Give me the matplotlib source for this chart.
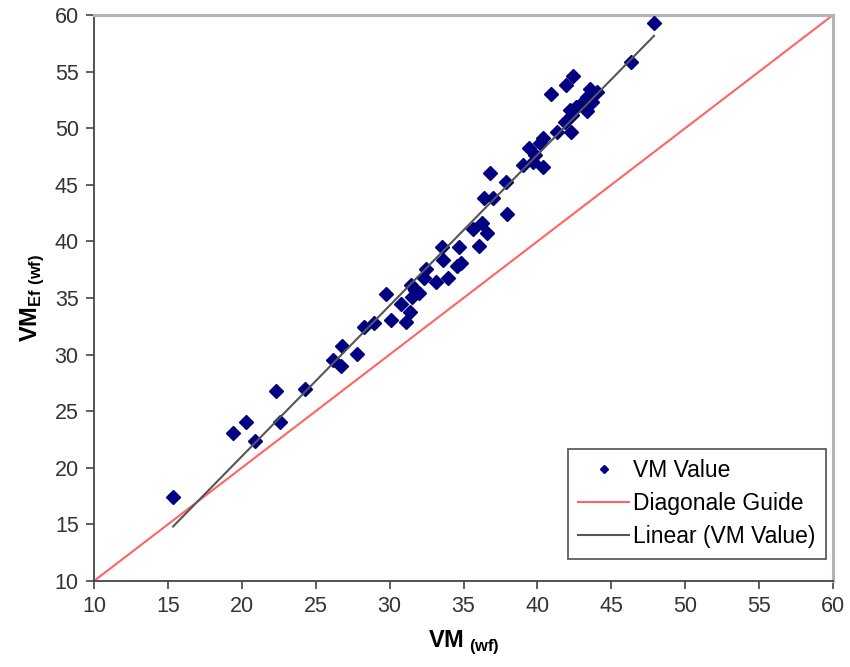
import numpy as np
import matplotlib
matplotlib.use("Agg")
import matplotlib.pyplot as plt

plt.rcParams['font.family'] = ['Liberation Sans', 'DejaVu Sans']
plt.rcParams['mathtext.fontset'] = 'custom'
plt.rcParams['mathtext.rm'] = 'Liberation Sans'
plt.rcParams['mathtext.bf'] = 'Liberation Sans:bold'

# values
vm_wf = [15.35, 19.40, 20.28, 20.89, 22.31, 22.58, 24.28, 26.17, 26.71, 26.78,
         27.79, 28.27, 28.94, 29.76, 30.09, 30.77, 31.11, 31.38, 31.45, 31.52,
         31.72, 31.99, 32.33, 32.46, 33.14, 33.55, 33.61, 33.95, 34.56, 34.70,
         34.83, 35.64, 36.05, 36.25, 36.39, 36.59, 36.79, 37.00, 37.88, 37.94,
         39.03, 39.43, 39.70, 39.84, 40.18, 40.38, 40.38, 40.92, 41.33, 41.87,
         41.94, 42.21, 42.27, 42.34, 42.41, 42.61, 43.02, 43.36, 43.36, 43.56,
         43.69, 44.03, 46.33, 47.89]
vm_ef = [17.42, 23.07, 24.05, 22.37, 26.78, 24.05, 26.96, 29.52, 28.99, 30.76,
         30.05, 32.44, 32.79, 35.35, 33.06, 34.47, 32.88, 33.76, 36.15, 35.09,
         35.71, 35.44, 36.77, 37.56, 36.41, 39.51, 38.36, 36.77, 37.83, 39.51,
         38.09, 41.10, 39.59, 41.63, 43.83, 40.74, 46.04, 43.83, 45.25, 42.42,
         46.75, 48.25, 47.01, 47.63, 48.69, 49.13, 46.57, 53.02, 49.66, 50.55,
         53.82, 51.61, 49.66, 51.17, 54.61, 51.87, 52.23, 52.76, 51.52, 53.46,
         52.31, 53.20, 55.85, 59.29]
guide = [10, 60]
ticks = [10, 15, 20, 25, 30, 35, 40, 45, 50, 55, 60]

fig = plt.figure(figsize=(8.5, 6.67), dpi=100)
ax = fig.add_axes([0.1106, 0.129, 0.8694, 0.8485])

ax.plot(guide, guide, color="#ff6464", lw=1.5, label="Diagonale Guide", zorder=2)
ax.plot(vm_wf, vm_ef, linestyle="none", marker="D", markersize=7.2,
        color="#000080", label="VM Value", zorder=3)

# linear trend of the points
k, b = np.polyfit(vm_wf, vm_ef, 1)
xs = np.array([min(vm_wf), max(vm_wf)])
ax.plot(xs, k * xs + b, color="#555555", lw=1.5, label="Linear (VM Value)", zorder=4)

ax.set_xlim(10, 60)
ax.set_ylim(10, 60)
ax.set_xticks(ticks)
ax.set_yticks(ticks)
ax.tick_params(direction="out", length=6, width=1.2, color="#444444",
               labelsize=15.5, labelcolor="#333333", pad=5)

for s in ["left", "bottom"]:
    ax.spines[s].set_color("#444444")
    ax.spines[s].set_linewidth(1.3)
for s in ["top", "right"]:
    ax.spines[s].set_color("#b4b4b4")
    ax.spines[s].set_linewidth(2.2)

ax.set_xlabel(r"$\mathbf{VM}_{\ \mathbf{(wf)}}$", fontsize=17, labelpad=8)
ax.set_ylabel(r"$\mathbf{VM}_{\mathbf{Ef\ (wf)}}$", fontsize=17, labelpad=6)

handles, labels = ax.get_legend_handles_labels()
order = [1, 0, 2]
leg = ax.legend([handles[i] for i in order], [labels[i] for i in order],
                loc="lower right", bbox_to_anchor=(1.0, 0.027), fontsize=16.5,
                frameon=True, fancybox=False, handlelength=2.2, handletextpad=0.2,
                borderpad=0.45, labelspacing=0.45, borderaxespad=0.3,
                markerscale=0.6)
leg.get_frame().set_edgecolor("#222222")
leg.get_frame().set_linewidth(1.2)

fig.savefig("out.png", dpi=100)
